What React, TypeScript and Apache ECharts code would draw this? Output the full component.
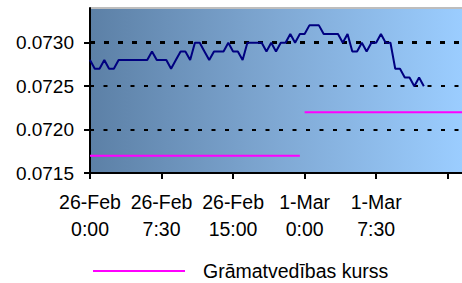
import React, { useEffect, useRef } from "react";
import * as echarts from "echarts";

// Tick labels shown on the category axis (every 15th half-hour slot)
const tickLabels = ["26-Feb\n0:00", "26-Feb\n7:30", "26-Feb\n15:00", "1-Mar\n0:00", "1-Mar\n7:30"];

// Half-hour categories: 26-Feb 0:00 .. 22:00, then 1-Mar 0:00 .. 16:30
const days = ["26-Feb", "1-Mar"];
const slotsPerDay = [45, 34];
const categories: string[] = [];
days.forEach((d, di) => {
  for (let k = 0; k < slotsPerDay[di]; k++) {
    const h = Math.floor(k / 2);
    const m = k % 2 === 0 ? "00" : "30";
    categories.push(`${d} ${h}:${m}`);
  }
});

// Market rate (blue line)
const marketRate = [
  0.0728, 0.0727, 0.0727, 0.0728, 0.0727, 0.0727, 0.0728, 0.0728, 0.0728, 0.0728,
  0.0728, 0.0728, 0.0728, 0.0729, 0.0728, 0.0728, 0.0728, 0.0727, 0.0728, 0.0729,
  0.0729, 0.0728, 0.0730, 0.0730, 0.0729, 0.0728, 0.0729, 0.0729, 0.0729, 0.0730,
  0.0729, 0.0729, 0.0728, 0.0730, 0.0730, 0.0730, 0.0730, 0.0729, 0.0730, 0.0729,
  0.0730, 0.0730, 0.0731, 0.0730, 0.0731, 0.0731, 0.0732, 0.0732, 0.0732, 0.0731,
  0.0731, 0.0731, 0.0731, 0.0730, 0.0731, 0.0729, 0.0729, 0.0730, 0.0729, 0.0730,
  0.0730, 0.0731, 0.0730, 0.0730, 0.0727, 0.0727, 0.0726, 0.0726, 0.0725, 0.0726,
  0.0725,
];

// Accounting rate (magenta), one value per day
const accountingRate = [0.0717, 0.0722];
const accountingName = "Grāmatvedības kurss";

const yMin = 0.0715;
const yMax = 0.0734;
const yStep = 0.0005;

const FONT = 'Arial, "Liberation Sans", sans-serif';
const T = "rgba(0,0,0,0)";

export default function App() {
  const ref = useRef<HTMLDivElement>(null);
  useEffect(() => {
    if (!ref.current) return;
    const chart = echarts.init(ref.current, undefined, { renderer: "svg" });

    const day1 = categories.map((_, i) => (i < slotsPerDay[0] ? accountingRate[0] : null));
    const day2 = categories.map((_, i) => (i >= slotsPerDay[0] ? accountingRate[1] : null));

    const hiddenY = (colors: string[], width: number, type: any) => ({
      type: "value",
      min: yMin,
      max: yMax,
      interval: yStep,
      position: "left",
      axisLine: { show: false },
      axisTick: { show: false },
      axisLabel: { show: false },
      splitLine: { show: true, lineStyle: { color: colors, width, type } },
    });

    chart.setOption({
      animation: false,
      grid: {
        left: 90,
        right: -4,
        top: 8,
        bottom: 110,
        show: true,
        borderWidth: 0,
        backgroundColor: new echarts.graphic.LinearGradient(0, 0, 1, 0, [
          { offset: 0, color: "#5c80a6" },
          { offset: 0.5, color: "#7fa8d3" },
          { offset: 1, color: "#9bcdff" },
        ]),
      },
      legend: {
        data: [accountingName],
        left: 88,
        top: 256,
        icon: "rect",
        itemWidth: 92,
        itemHeight: 2,
        textStyle: {
          fontFamily: FONT,
          fontSize: 19.5,
          color: "#000",
          padding: [0, 0, 0, 13],
        },
      },
      xAxis: {
        type: "category",
        data: categories,
        boundaryGap: false,
        axisLine: { lineStyle: { color: "#000", width: 2 } },
        axisTick: { interval: 14, length: 6, lineStyle: { color: "#000", width: 2 } },
        axisLabel: {
          interval: 14,
          margin: 15,
          fontFamily: FONT,
          fontSize: 19.5,
          lineHeight: 27,
          color: "#000",
          formatter: (_v: string, idx: number) => {
            const k = idx / 15;
            return Number.isInteger(k) && k < tickLabels.length ? tickLabels[k] : "";
          },
        },
        splitLine: { show: false },
      },
      yAxis: [
        {
          type: "value",
          min: yMin,
          max: yMax,
          interval: yStep,
          axisLine: { show: true, lineStyle: { color: "#000", width: 2 } },
          axisTick: { show: true, length: 6, lineStyle: { color: "#000", width: 2 } },
          axisLabel: {
            showMaxLabel: false,
            margin: 16,
            fontFamily: FONT,
            fontSize: 19,
            color: "#000",
            formatter: (v: number) => v.toFixed(4),
          },
          splitLine: {
            show: true,
            lineStyle: { color: [T, "#000", "#000", T, "#bdbdbd"], width: 2, type: [4, 9.5] },
          },
        },
        hiddenY([T, T, T, "#000", T], 3, [5, 9]),
        hiddenY([T, T, T, T, "#bdbdbd"], 2, "solid"),
      ],
      series: [
        {
          name: accountingName,
          type: "line",
          data: day1,
          showSymbol: false,
          lineStyle: { color: "#ff00ff", width: 2 },
          itemStyle: { color: "#ff00ff" },
        },
        {
          name: accountingName,
          type: "line",
          data: day2,
          showSymbol: false,
          lineStyle: { color: "#ff00ff", width: 2 },
          itemStyle: { color: "#ff00ff" },
        },
        {
          name: "Tirgus kurss",
          type: "line",
          data: marketRate,
          showSymbol: false,
          lineStyle: { color: "#000080", width: 2 },
          itemStyle: { color: "#000080" },
        },
      ],
    });
    return () => chart.dispose();
  }, []);
  return (
    <div
      ref={ref}
      style={{ position: "absolute", left: 0, top: 0, width: 462, height: 283 }}
    />
  );
}
